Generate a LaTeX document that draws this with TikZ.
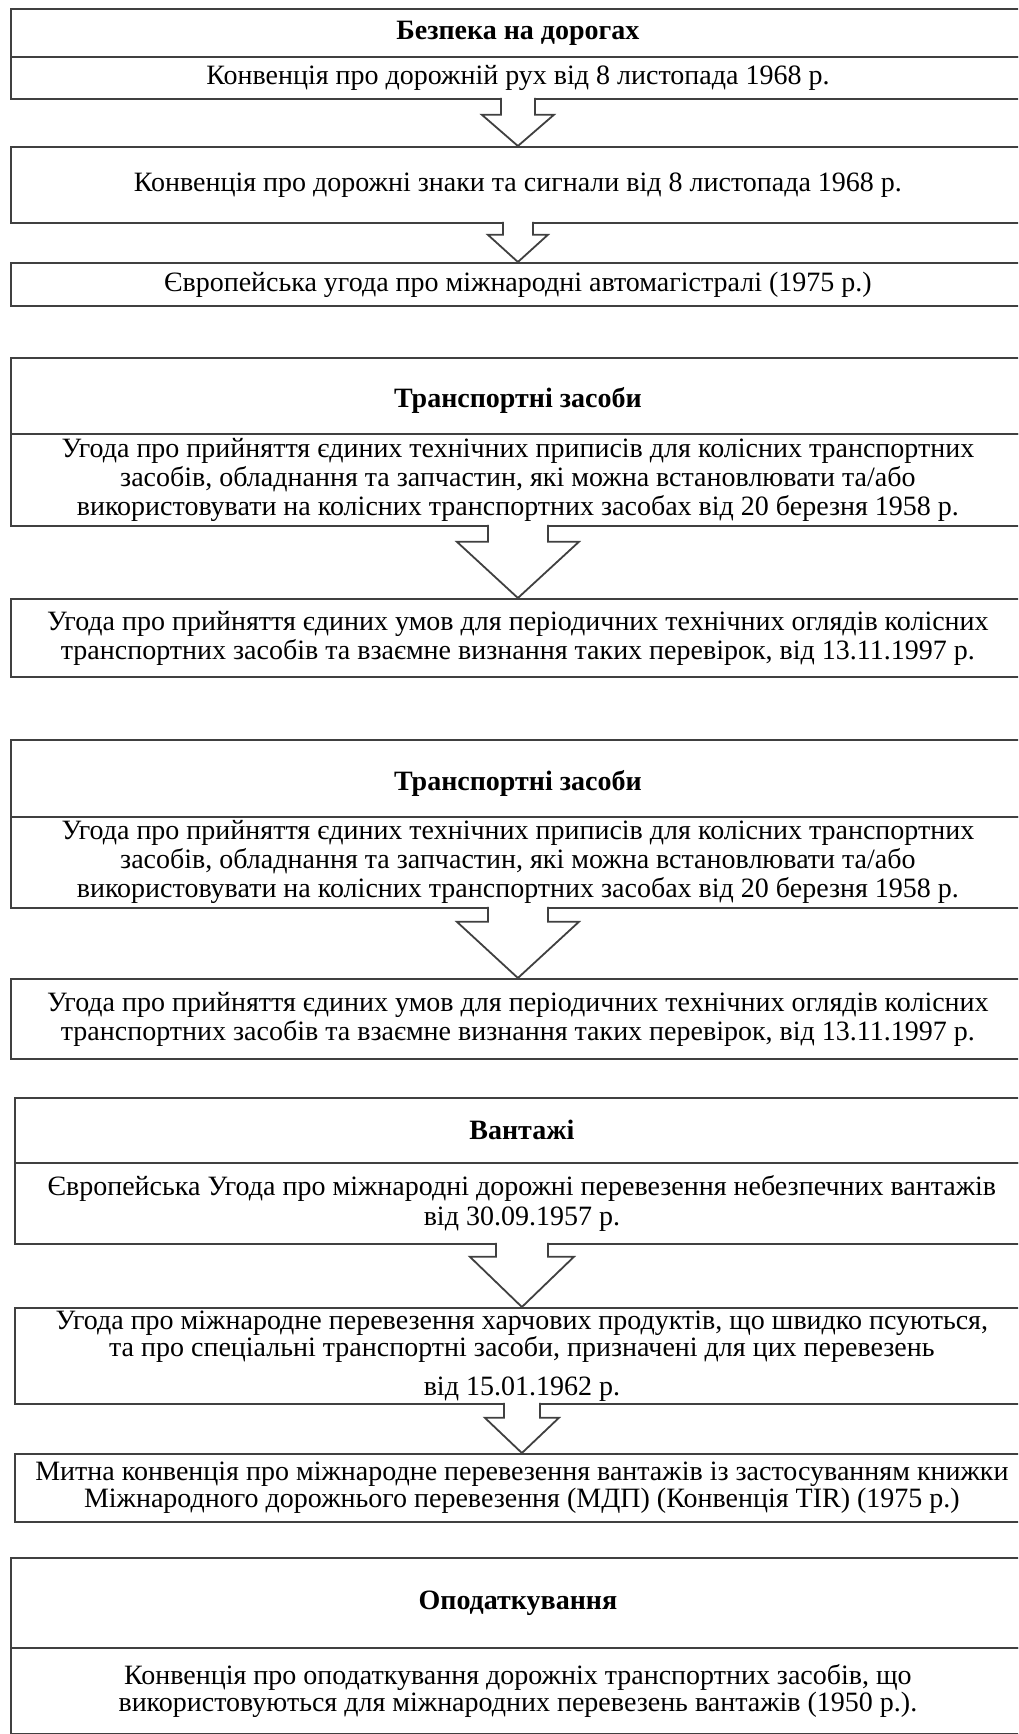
\documentclass[tikz,border=0pt]{standalone}
\usepackage{fontspec}
\setmainfont{Liberation Serif}[BoldFont={Liberation Serif Bold}]
\usetikzlibrary{calc}

\begin{document}
\begin{tikzpicture}[x=1pt,y=-1pt]
    \tikzset{
      box/.style={draw=black!75, line width=1.8pt, anchor=north west, minimum width=1014pt,
        align=center, inner sep=0pt, font=\fontsize{28}{29}\selectfont},
      headbox/.style={box, font=\fontsize{28}{29}\selectfont\bfseries},
      blockarrow/.style={draw=black!75, line width=1.8pt, fill=white, line join=miter}
    }
    \useasboundingbox (0,0) rectangle (1018,1734);
    \clip (0,0) rectangle (1018,1734);

    % roads
    \node[headbox, minimum height=48pt] (road) at (10,8) {Безпека на дорогах};
    \node[box, minimum height=42pt] (road1) at (10,56) {Конвенція про дорожній рух від 8 листопада 1968 р.};
    \node[box, minimum height=76pt] (road2) at (10,146) {Конвенція про дорожні знаки та сигнали від 8 листопада 1968 р.};
    \node[box, minimum height=43pt] (road3) at (10,262) {Європейська угода про міжнародні автомагістралі (1975 р.)};

    % vehicles
    \node[headbox, minimum height=76pt, text height=30pt, text depth=6pt] (veh) at (10,357) {Транспортні засоби};
    \node[box, minimum height=92pt] (veh1) at (10,433) {Угода про прийняття єдиних технічних приписів для колісних транспортних\\
      засобів, обладнання та запчастин, які можна встановлювати та/або\\
      використовувати на колісних транспортних засобах від 20 березня 1958 р.};
    \node[box, minimum height=78pt] (veh2) at (10,598) {Угода про прийняття єдиних умов для періодичних технічних оглядів колісних\\
      транспортних засобів та взаємне визнання таких перевірок, від 13.11.1997 р.};

    % vehicles again
    \node[headbox, minimum height=77pt, text height=30pt, text depth=6pt] (vehb) at (10,739) {Транспортні засоби};
    \node[box, minimum height=91pt] (vehb1) at (10,816) {Угода про прийняття єдиних технічних приписів для колісних транспортних\\
      засобів, обладнання та запчастин, які можна встановлювати та/або\\
      використовувати на колісних транспортних засобах від 20 березня 1958 р.};
    \node[box, minimum height=80pt] (vehb2) at (10,978) {Угода про прийняття єдиних умов для періодичних технічних оглядів колісних\\
      транспортних засобів та взаємне визнання таких перевірок, від 13.11.1997 р.};

    % cargo
    \node[headbox, minimum height=65pt] (cargo) at (14,1097) {Вантажі};
    \node[box, minimum height=81pt, font=\fontsize{28}{30}\selectfont] (cargo1) at (14,1162) {Європейська Угода про міжнародні дорожні перевезення небезпечних вантажів\\
      від 30.09.1957 р.};
    \node[box, minimum height=96pt, font=\fontsize{28}{26}\selectfont] (cargo2) at (14,1307) {Угода про міжнародне перевезення харчових продуктів, що швидко псуються,\\
      та про спеціальні транспортні засоби, призначені для цих перевезень\\[13pt]
      від 15.01.1962 р.};
    \node[box, minimum height=68pt, font=\fontsize{28}{27}\selectfont] (cargo3) at (14,1453) {Митна конвенція про міжнародне перевезення вантажів із застосуванням книжки\\
      Міжнародного дорожнього перевезення (МДП) (Конвенція TIR) (1975 р.)};

    % taxes
    \node[headbox, minimum height=90pt] (tax) at (10,1557) {Оподаткування};
    \node[box, minimum height=86pt, font=\fontsize{28}{27}\selectfont] (tax1) at (10,1647) {Конвенція про оподаткування дорожніх транспортних засобів, що\\
      використовуються для міжнародних перевезень вантажів (1950 р.).};

    % arrows
    \filldraw[blockarrow] ($(road1.south)+(-17,-2)$) -- ($(road1.south)+(-17,15)$) -- ($(road1.south)+(-36,15)$) -- (road2.north)
      -- ($(road1.south)+(36,15)$) -- ($(road1.south)+(17,15)$) -- ($(road1.south)+(17,-2)$);
    \filldraw[blockarrow] ($(road2.south)+(-15,-2)$) -- ($(road2.south)+(-15,11)$) -- ($(road2.south)+(-30,11)$) -- (road3.north)
      -- ($(road2.south)+(30,11)$) -- ($(road2.south)+(15,11)$) -- ($(road2.south)+(15,-2)$);
    \filldraw[blockarrow] ($(veh1.south)+(-30,-2)$) -- ($(veh1.south)+(-30,15)$) -- ($(veh1.south)+(-61,15)$) -- (veh2.north)
      -- ($(veh1.south)+(61,15)$) -- ($(veh1.south)+(30,15)$) -- ($(veh1.south)+(30,-2)$);
    \filldraw[blockarrow] ($(vehb1.south)+(-30,-2)$) -- ($(vehb1.south)+(-30,13)$) -- ($(vehb1.south)+(-61,13)$) -- (vehb2.north)
      -- ($(vehb1.south)+(61,13)$) -- ($(vehb1.south)+(30,13)$) -- ($(vehb1.south)+(30,-2)$);
    \filldraw[blockarrow] ($(cargo1.south)+(-26,-2)$) -- ($(cargo1.south)+(-26,12)$) -- ($(cargo1.south)+(-52,12)$) -- (cargo2.north)
      -- ($(cargo1.south)+(52,12)$) -- ($(cargo1.south)+(26,12)$) -- ($(cargo1.south)+(26,-2)$);
    \filldraw[blockarrow] ($(cargo2.south)+(-18,-2)$) -- ($(cargo2.south)+(-18,13)$) -- ($(cargo2.south)+(-37,13)$) -- (cargo3.north)
      -- ($(cargo2.south)+(37,13)$) -- ($(cargo2.south)+(18,13)$) -- ($(cargo2.south)+(18,-2)$);
\end{tikzpicture}
\end{document}
